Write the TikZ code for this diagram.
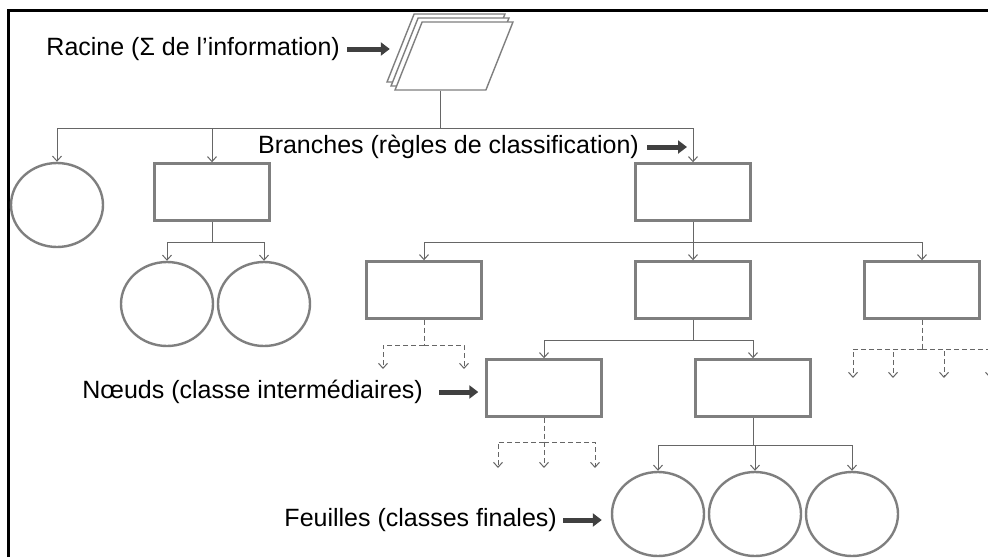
\documentclass[tikz,border=0pt]{standalone}
\usepackage{fontspec}
\setmainfont{Liberation Sans}
\usetikzlibrary{arrows.meta,shapes.geometric,positioning}

\definecolor{boxgray}{HTML}{7F7F7F}
\definecolor{linegray}{HTML}{666666}
\definecolor{arrowgray}{HTML}{404040}

\tikzset{
  box/.style={draw=boxgray, line width=2.4pt, fill=white, minimum width=115pt, minimum height=57pt, inner sep=0pt},
  leaf/.style={draw=boxgray, line width=2.4pt, fill=white, ellipse, minimum width=92pt, minimum height=84pt, inner sep=0pt},
  sheet/.style={draw=boxgray, line width=1.4pt, fill=white, trapezium, trapezium left angle=67, trapezium right angle=113, trapezium stretches=true, minimum width=118pt, minimum height=68pt, inner sep=3pt},
  plain/.style={draw=linegray, line width=1pt},
  link/.style={plain, -{Straight Barb[length=5pt,width=9pt]}},
  dashlink/.style={link, dash pattern=on 5pt off 3pt},
  dashplain/.style={plain, dash pattern=on 5pt off 3pt},
  bigarrow/.style={draw=arrowgray, line width=5pt, -{Triangle[length=9pt,width=13pt]}},
  lbl/.style={font=\fontsize{25}{30}\selectfont, inner sep=0pt, anchor=east},
}

\begin{document}
\begin{tikzpicture}[x=1pt, y=-1pt]
\useasboundingbox (0,0) rectangle (988,557);
\draw[line width=3pt] (8,557) -- (8,10) -- (988,10);

% racine
\node[sheet] (root3) at (446,48) {};
\node[sheet] (root2) at (450,52) {};
\node[sheet] (root)  at (454,56) {};

% branches
\node[leaf] (L1) at (57,205)  {};
\node[box]  (A1) at (212,192) {};
\node[box]  (B1) at (693,192) {};

\node[leaf] (LA) at (167,304) {};
\node[leaf] (LB) at (264,304) {};

\node[box] (C1) at (424,290) {};
\node[box] (C2) at (693,290) {};
\node[box] (C3) at (922,290) {};

\node[box] (D1) at (544,388) {};
\node[box] (D2) at (753,388) {};

% feuilles
\node[leaf] (E1) at (658,514) {};
\node[leaf] (E2) at (755,514) {};
\node[leaf] (E3) at (852,514) {};

% liens
\coordinate (j0) at (root.bottom side |- 0,128);
\draw[plain] (root.bottom side) -- (j0);
\foreach \n in {L1,A1,B1} \draw[link] (j0) -| (\n.north);

\coordinate (jA) at (A1.south |- 0,242);
\draw[plain] (A1.south) -- (jA);
\foreach \n in {LA,LB} \draw[link] (jA) -| (\n.north);

\coordinate (jB) at (B1.south |- 0,242);
\draw[plain] (B1.south) -- (jB);
\foreach \n in {C1,C2,C3} \draw[link] (jB) -| (\n.north);

\coordinate (jC) at (C2.south |- 0,340);
\draw[plain] (C2.south) -- (jC);
\foreach \n in {D1,D2} \draw[link] (jC) -| (\n.north);

\coordinate (jD) at (D2.south |- 0,445);
\draw[plain] (D2.south) -- (jD);
\foreach \n in {E1,E2,E3} \draw[link] (jD) -| (\n.north);

% sous-arbres non developpes
\coordinate (kC1) at (C1.south |- 0,345);
\draw[dashplain] (C1.south) -- (kC1);
\foreach \x [count=\i] in {383,464} {
  \coordinate (sC1\i) at (\x,369);
  \draw[dashlink] (kC1) -| (sC1\i);
}
\coordinate (kC3) at (C3.south |- 0,349);
\draw[dashplain] (C3.south) -- (kC3);
\foreach \x [count=\i] in {853,893,944,990} {
  \coordinate (sC3\i) at (\x,378);
  \draw[dashlink] (kC3) -| (sC3\i);
}
\coordinate (kD1) at (D1.south |- 0,442);
\draw[dashplain] (D1.south) -- (kD1);
\foreach \x [count=\i] in {498,544,595} {
  \coordinate (sD1\i) at (\x,468);
  \draw[dashlink] (kD1) -| (sD1\i);
}

% legendes
\node[lbl] (lroot) at (340,49) {Racine (Σ de l’information)};
\draw[bigarrow, shorten <=7pt, shorten >=10pt] (lroot.east) -- (lroot.east -| root3.left side);

\node[lbl] (lbranch) at (639,147) {Branches (règles de classification)};
\draw[bigarrow, shorten <=8pt, shorten >=6pt] (lbranch.east) -- (lbranch.east -| B1.north);

\node[lbl] (lnoeud) at (423,392) {Nœuds (classe intermédiaires)};
\draw[bigarrow, shorten <=16pt, shorten >=7pt] (lnoeud.east) -- (lnoeud.east -| D1.west);

\node[lbl] (lfeuille) at (557,520) {Feuilles (classes finales)};
\draw[bigarrow, shorten <=6pt, shorten >=9pt] (lfeuille.east) -- (lfeuille.east -| E1.west);
\end{tikzpicture}
\end{document}
